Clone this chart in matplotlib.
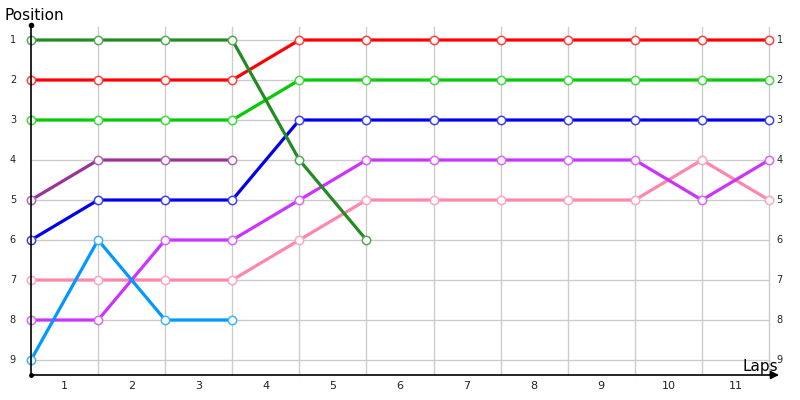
import matplotlib
matplotlib.use("Agg")
import matplotlib.pyplot as plt
from matplotlib.colors import to_rgb

laps = list(range(0, 12))
lap_labels = [str(i) for i in range(1, 12)]
positions = list(range(1, 10))

# séries : positions à chaque passage (de bas en haut dans l'ordre de tracé)
pink = [7, 7, 7, 7, 6, 5, 5, 5, 5, 5, 4, 5]
magenta = [8, 8, 6, 6, 5, 4, 4, 4, 4, 4, 5, 4]
light_blue = [9, 6, 8, 8]
blue = [6, 5, 5, 5, 3, 3, 3, 3, 3, 3, 3, 3]
purple = [5, 4, 4, 4]
light_green = [3, 3, 3, 3, 2, 2, 2, 2, 2, 2, 2, 2]
red = [2, 2, 2, 2, 1, 1, 1, 1, 1, 1, 1, 1]
dark_green = [1, 1, 1, 1, 4, 6]

series = [
    (pink, "#ff88aa"),
    (magenta, "#cc33ff"),
    (light_blue, "#0099ff"),
    (blue, "#0000ee"),
    (purple, "#993399"),
    (light_green, "#00cc00"),
    (red, "#ff0000"),
    (dark_green, "#228b22"),
]


def lighter(c, f=0.25):
    r, g, b = to_rgb(c)
    return (r + (1 - r) * f, g + (1 - g) * f, b + (1 - b) * f)


fig = plt.figure(figsize=(8, 4), dpi=100)
ax = fig.add_axes([31 / 800, 25 / 400, 738 / 800, 350 / 400])
ax.set_xlim(0, 11)
ax.set_ylim(9.375, 0.625)

for s in ax.spines.values():
    s.set_visible(False)
ax.set_xticks([])
ax.set_yticks([])

# grille
for p in positions:
    ax.plot([0, 11], [p, p], color="#cccccc", lw=1, zorder=1, clip_on=False)
for x in laps[1:]:
    ax.plot([x, x], [0.675, 9.375], color="#cccccc", lw=1, zorder=1, clip_on=False)

for i, (vals, col) in enumerate(series):
    ax.plot(laps[:len(vals)], vals, color=col, lw=2.3, zorder=3 + i,
            marker="o", markersize=6, markerfacecolor="white",
            markeredgecolor=lighter(col), markeredgewidth=1.1, clip_on=False)

# axes avec flèche
ax.plot([0, 0], [0.625, 9.375], color="black", lw=1.2, zorder=20, clip_on=False)
ax.plot([0], [0.625], marker="o", color="black", markersize=3, clip_on=False, zorder=21)
ax.plot([0], [9.375], marker="o", color="black", markersize=2.5, clip_on=False, zorder=21)
ax.annotate("", xy=(11.15, 9.375), xytext=(0, 9.375), annotation_clip=False,
            arrowprops=dict(arrowstyle="-|>", color="black", lw=1.2,
                            mutation_scale=12, shrinkA=0, shrinkB=0), zorder=20)

# étiquettes
for p in positions:
    ax.text(-0.27, p, str(p), ha="center", va="center", fontsize=7, color="#222222")
    ax.text(11.16, p, str(p), ha="center", va="center", fontsize=7, color="#222222")
for i, lab in enumerate(lap_labels):
    ax.text(i + 0.5, 9.66, lab, ha="center", va="center", fontsize=8, color="#222222")

fig.text(5 / 800, 1 - 15 / 400, "Position", ha="left", va="center", fontsize=11)
fig.text(742 / 800, 1 - 367 / 400, "Laps", ha="left", va="center", fontsize=11)

fig.savefig("out.png", dpi=100)
